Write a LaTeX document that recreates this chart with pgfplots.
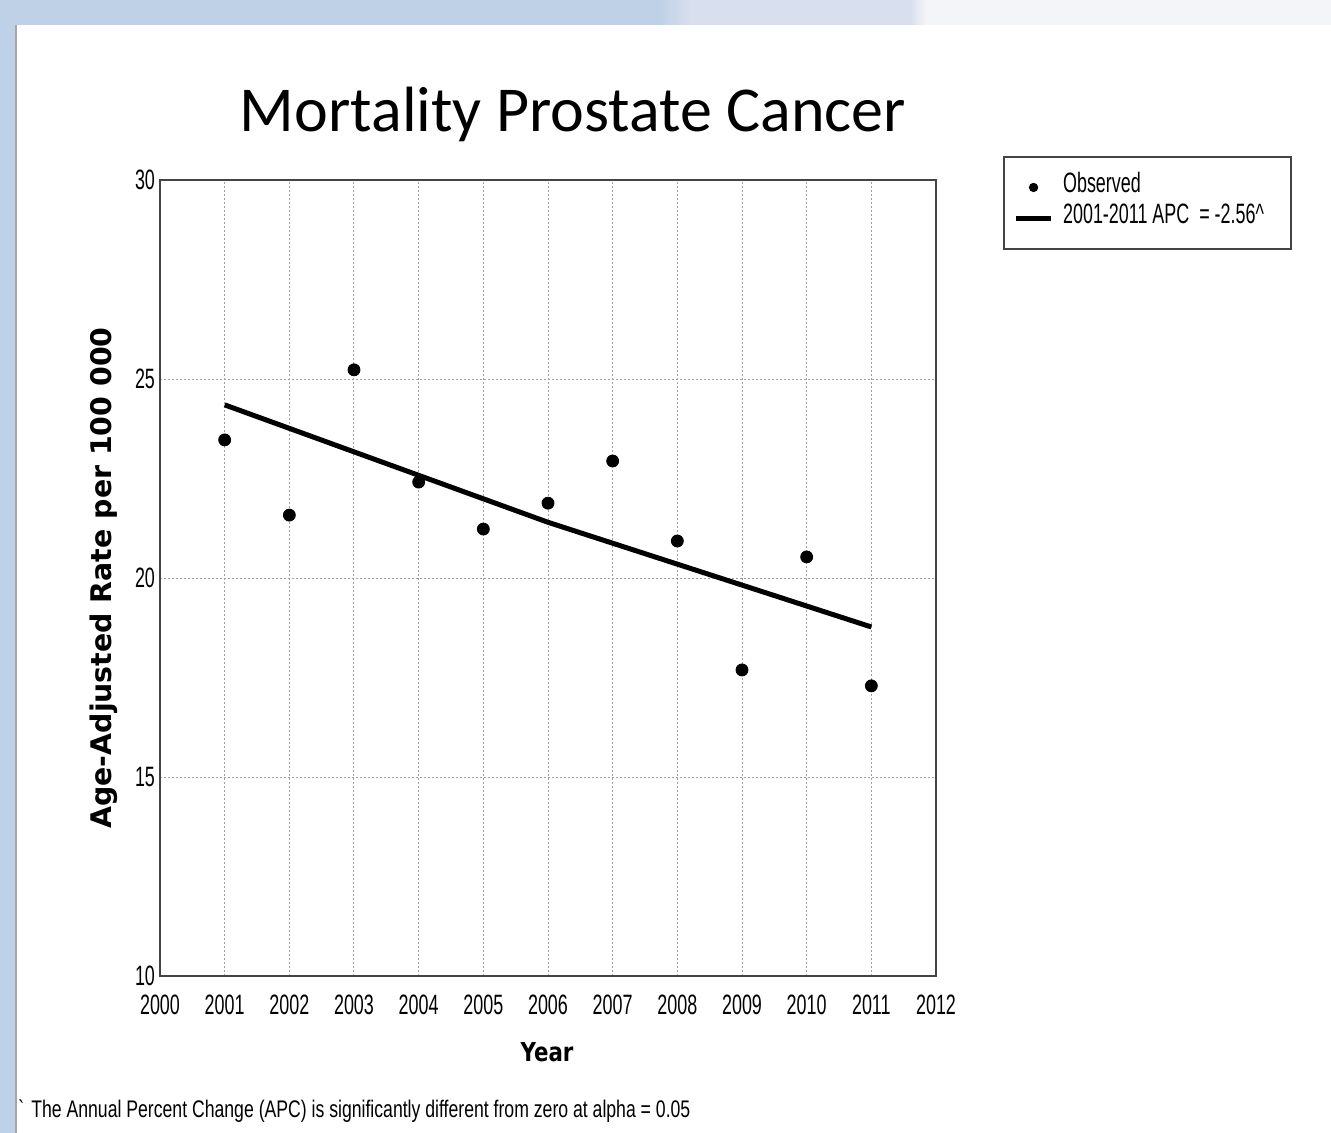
\documentclass[border=0pt]{standalone}
\usepackage{fontspec}
\usepackage{pgfplots}
\pgfplotsset{compat=1.18}
\setmainfont{Liberation Sans}
\newfontfamily\narrowfont{Liberation Sans}[FakeStretch=0.64]
\newfontfamily\footfont{Liberation Sans}[FakeStretch=0.735]
\newfontfamily\titlefont{Carlito}
\newfontfamily\vfont{DejaVu Sans}
\newfontfamily\vfontn{DejaVu Sans}[FakeStretch=0.82]
\definecolor{bgblue}{HTML}{BFD1E6}
\definecolor{bgmid}{HTML}{D8DFEE}
\definecolor{bgright}{HTML}{F4F5F8}
\definecolor{axgray}{HTML}{444444}
\definecolor{gridgray}{HTML}{A0A0A0}
\begin{document}
\begin{tikzpicture}
\useasboundingbox (0,0) rectangle (665.5pt,-566.5pt);
\fill[bgblue] (0,0) rectangle (665.5pt,-566.5pt);
\shade[left color=bgblue, right color=bgmid] (330pt,0) rectangle (345pt,-12.5pt);
\fill[bgmid] (345pt,0) rectangle (455pt,-12.5pt);
\shade[left color=bgmid,right color=bgright] (455pt,0) rectangle (463pt,-12.5pt);
\fill[bgright] (463pt,0) rectangle (665.5pt,-12.5pt);
\fill[white] (8pt,-12.5pt) rectangle (665.5pt,-566.5pt);
\draw[black!35, line width=1pt] (8pt,-12.5pt) -- (8pt,-566.5pt);
\node[anchor=base, inner sep=0pt, font=\titlefont\fontsize{32}{32}\selectfont] at (286.5pt,-66pt) {Mortality Prostate Cancer};
\node[anchor=base west, inner sep=0pt, font=\footfont\fontsize{12}{12}\selectfont] at (9pt,-558.5pt) {\textasciigrave\ The Annual Percent Change (APC) is significantly different from zero at alpha = 0.05};
\begin{axis}[
  at={(80pt,-488pt)}, anchor=south west, scale only axis,
  width=388pt, height=398pt,
  xmin=2000, xmax=2012, ymin=10, ymax=30,
  xtick={2000,2001,...,2012}, ytick={10,15,20,25,30},
  major tick length=0pt,
  grid=major, grid style={gridgray, line width=0.5pt, dash pattern=on 1pt off 1pt},
  axis line style={axgray, line width=1pt},
  /pgf/number format/1000 sep={}, /pgf/number format/assume math mode=true,
  ticklabel style={font=\narrowfont\fontsize{14}{14}\selectfont, text=black},
  xticklabel style={yshift=-6pt},
  yticklabel style={xshift=1pt},
  xlabel={Year}, ylabel={Age-Adjusted Rate per 100 000},
  xlabel style={at={(axis description cs:0.4987,-0.108)}, anchor=base, inner sep=0pt, font=\vfontn\bfseries\fontsize{13}{13}\selectfont},
  ylabel style={at={(axis description cs:-0.0631,0.5)}, anchor=base, inner sep=0pt, font=\vfont\bfseries\fontsize{14.2}{14.2}\selectfont},
  legend style={at={(axis description cs:1.0863,1.0302)}, anchor=north west, draw=axgray, line width=1pt, inner xsep=5pt, inner ysep=7.5pt, font=\narrowfont\fontsize{14}{14}\selectfont, row sep=0pt, nodes={inner xsep=2pt, inner ysep=0pt, text height=10.5pt, text depth=5pt}},
  legend cell align=left,
]
\addplot[only marks, mark=*, mark size=3pt, black, legend image code/.code={\fill[black] (0.3cm,0) circle (1.8pt);}] coordinates {
(2001,23.47) (2002,21.58) (2003,25.23) (2004,22.41) (2005,21.23) (2006,21.88)
(2007,22.94) (2008,20.93) (2009,17.69) (2010,20.53) (2011,17.29)};
\addlegendentry{\makebox[110pt][l]{\hspace{3pt}Observed}}
\addplot[black, line width=2.5pt, no marks] coordinates {(2001,24.35) (2006,21.40) (2011,18.77)};
\addlegendentry{\makebox[110pt][l]{\hspace{3pt}2001-2011 APC\ \ = -2.56\textasciicircum}}
\end{axis}
\end{tikzpicture}
\end{document}
